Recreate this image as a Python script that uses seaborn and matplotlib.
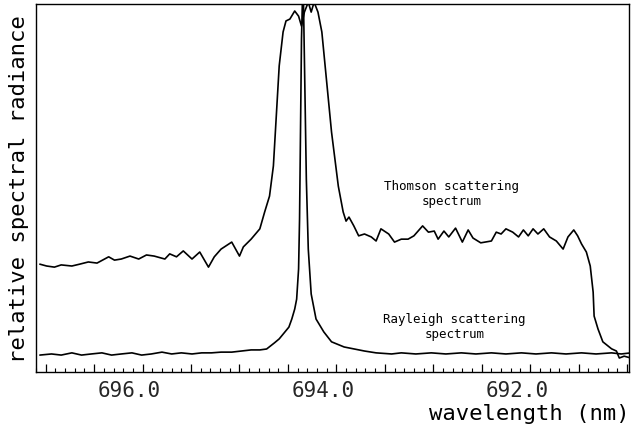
import matplotlib
matplotlib.use("Agg")
import matplotlib.pyplot as plt
import matplotlib.transforms as mtransforms
from matplotlib.ticker import MultipleLocator, FuncFormatter
import seaborn as sns
import pandas as pd

# ---- data (wavelength in nm, relative spectral radiance 0..100) ----
thomson_wl = [697.06, 696.99, 696.91, 696.84, 696.73, 696.65, 696.56, 696.47, 696.35, 696.29,
              696.22, 696.13, 696.04, 695.96, 695.88, 695.77, 695.72, 695.65, 695.58, 695.49,
              695.41, 695.32, 695.26, 695.19, 695.08, 695.00, 694.96, 694.88, 694.79, 694.74,
              694.69, 694.65, 694.62, 694.59, 694.55, 694.52, 694.48, 694.43, 694.39, 694.36,
              694.33, 694.29, 694.26, 694.23, 694.19, 694.15, 694.10, 694.05, 693.98, 693.93,
              693.90, 693.87, 693.82, 693.77, 693.71, 693.64, 693.59, 693.54, 693.46, 693.40,
              693.33, 693.26, 693.20, 693.11, 693.05, 692.99, 692.95, 692.89, 692.84, 692.77,
              692.70, 692.64, 692.59, 692.51, 692.40, 692.35, 692.30, 692.25, 692.18, 692.12,
              692.07, 692.02, 691.97, 691.92, 691.86, 691.80, 691.73, 691.66, 691.61, 691.55,
              691.51, 691.47, 691.42, 691.38, 691.35, 691.34, 691.30, 691.25, 691.16, 691.11,
              691.08, 691.03, 690.96]
thomson_val = [29.3, 28.8, 28.5, 29.1, 28.8, 29.3, 29.9, 29.6, 31.3, 30.4,
               30.7, 31.5, 30.7, 31.8, 31.5, 30.7, 32.1, 31.3, 32.9, 30.7,
               32.6, 28.5, 31.3, 33.4, 35.3, 31.5, 34.0, 36.1, 38.9, 43.5,
               47.8, 56.0, 69.6, 83.2, 92.4, 95.4, 95.9, 98.1, 96.7, 94.0,
               97.8, 100.5, 97.8, 100.5, 97.8, 92.4, 78.8, 65.2, 50.5, 43.5,
               41.0, 42.1, 39.7, 37.0, 37.5, 36.7, 35.6, 38.9, 37.5, 35.3,
               36.1, 36.1, 37.0, 39.7, 38.0, 38.3, 36.1, 38.3, 36.7, 39.1,
               35.3, 38.6, 36.4, 35.1, 35.6, 38.0, 37.5, 38.9, 38.0, 36.7,
               38.6, 37.0, 38.9, 37.5, 38.9, 36.7, 35.6, 33.4, 36.7, 38.6,
               37.0, 34.8, 32.6, 28.8, 21.7, 15.2, 11.7, 8.2, 6.3, 5.7,
               3.8, 4.3, 3.8]

rayleigh_wl = [697.06, 696.94, 696.84, 696.73, 696.63, 696.53, 696.42, 696.32, 696.22, 696.11,
               696.01, 695.91, 695.80, 695.70, 695.60, 695.49, 695.39, 695.29, 695.19, 695.08,
               694.98, 694.88, 694.79, 694.72, 694.64, 694.59, 694.54, 694.49, 694.46, 694.43,
               694.41, 694.39, 694.38, 694.37, 694.36, 694.35, 694.34, 694.33, 694.32, 694.31,
               694.29, 694.26, 694.21, 694.13, 694.05, 693.92, 693.71, 693.59, 693.43, 693.33,
               693.18, 693.02, 692.87, 692.71, 692.56, 692.40, 692.25, 692.09, 691.94, 691.78,
               691.63, 691.47, 691.32, 691.16, 691.06, 690.96]
rayleigh_val = [4.6, 4.9, 4.6, 5.2, 4.6, 4.9, 5.2, 4.6, 4.9, 5.2,
                4.6, 4.9, 5.4, 4.9, 5.2, 4.9, 5.2, 5.2, 5.4, 5.4,
                5.7, 6.0, 6.0, 6.25, 7.9, 9.0, 10.6, 12.2, 14.4, 17.1,
                19.8, 28.0, 41.6, 66.0, 90.5, 101.4, 101.4, 85.1, 68.8, 52.4,
                33.4, 21.2, 14.4, 10.9, 8.2, 6.8, 5.7, 5.2, 4.9, 5.2,
                4.9, 5.2, 4.9, 5.2, 4.9, 5.2, 4.9, 5.2, 4.9, 5.2,
                4.9, 5.2, 4.9, 5.2, 4.9, 5.2]

labeled_ticks = [696.0, 694.0, 692.0]
x_label = "wavelength (nm)"
y_label = "relative spectral radiance"
thomson_text = "Thomson scattering\nspectrum"
rayleigh_text = "Rayleigh scattering\nspectrum"

# ---- plot ----
sns.set_theme(style="white")
plt.rcParams["font.family"] = ["DejaVu Sans Mono", "DejaVu Sans"]

fig = plt.figure(figsize=(6.31, 4.27), dpi=100)
W, H = 631, 427
ax = fig.add_axes([36 / W, (H - 373) / H, (629 - 36) / W, (373 - 5) / H])

df_t = pd.DataFrame({"wl": thomson_wl, "val": thomson_val})
df_r = pd.DataFrame({"wl": rayleigh_wl, "val": rayleigh_val})
sns.lineplot(data=df_t, x="wl", y="val", ax=ax, color="black", lw=1.2, estimator=None)
sns.lineplot(data=df_r, x="wl", y="val", ax=ax, color="black", lw=1.2, estimator=None)

ax.set_xlim(697.1, 690.98)
ax.set_ylim(0, 100)

for s in ax.spines.values():
    s.set_color("black")
    s.set_linewidth(1.0)

ax.xaxis.set_major_locator(MultipleLocator(0.5))
ax.xaxis.set_minor_locator(MultipleLocator(0.1))


def fmt(v, pos):
    for t in labeled_ticks:
        if abs(v - t) < 1e-6:
            return f"{t:.1f}"
    return ""


ax.xaxis.set_major_formatter(FuncFormatter(fmt))
ax.tick_params(axis="x", which="major", direction="in", length=5.8, width=0.9,
               color="black", labelsize=15, pad=5.5, bottom=True, top=False)
ax.tick_params(axis="x", which="minor", direction="in", length=2.6, width=0.8,
               color="black", bottom=True, top=False)
ax.set_yticks([])

offset = mtransforms.ScaledTranslation(-0.13, 0, fig.dpi_scale_trans)
for lab in ax.get_xticklabels():
    lab.set_transform(lab.get_transform() + offset)

ax.set_xlabel(x_label, fontsize=16, color="black")
ax.xaxis.set_label_coords((630 - 36) / 593, (373 - 404) / 368)
ax.xaxis.label.set_ha("right")
ax.set_ylabel(y_label, fontsize=16, color="black")
ax.yaxis.set_label_coords((29 - 36) / 593, 0.5)

ax.text(692.81, 48.6, thomson_text, fontsize=9, ha="center", va="center",
        linespacing=1.15, color="black")
ax.text(692.78, 12.5, rayleigh_text, fontsize=9, ha="center", va="center",
        linespacing=1.15, color="black")

fig.savefig("out.png", dpi=100, facecolor="white")
